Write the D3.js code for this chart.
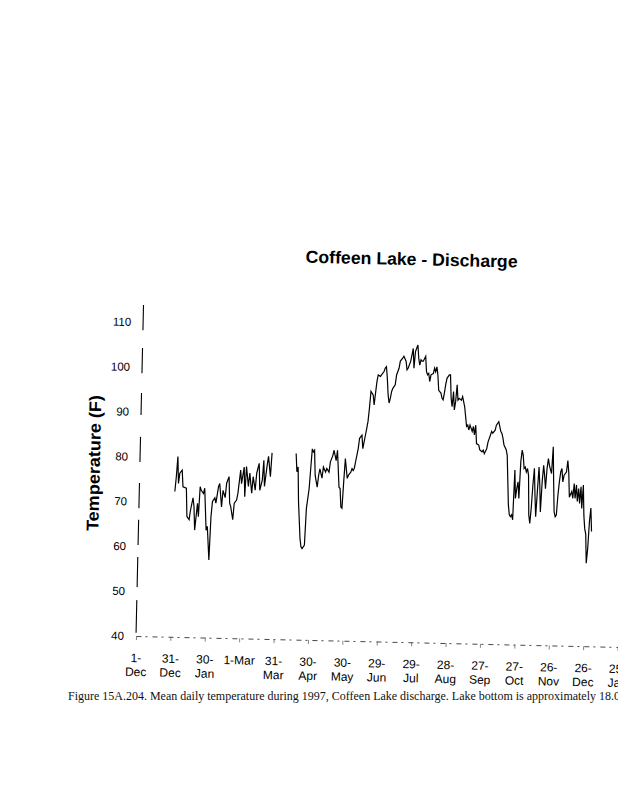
<!DOCTYPE html>
<html><head><meta charset="utf-8">
<script src="https://cdn.jsdelivr.net/npm/d3@7"></script>
<style>body{margin:0;background:#fff}svg{display:block}</style>
</head><body>
<svg id="chart" width="618" height="800"></svg>
<script>
// ---------- data ----------
const chartTitle = "Coffeen Lake - Discharge";
const yTitle = "Temperature (F)";
const captionText = "Figure 15A.204. Mean daily temperature during 1997, Coffeen Lake discharge. Lake bottom is approximately 18.0";

const tickDates = ["1996-12-01","1996-12-31","1997-01-30","1997-03-01","1997-03-31","1997-04-30","1997-05-30",
  "1997-06-29","1997-07-29","1997-08-28","1997-09-27","1997-10-27","1997-11-26","1997-12-26","1998-01-25"];
const tickLabels = ["1-\nDec","31-\nDec","30-\nJan","1-Mar","31-\nMar","30-\nApr","30-\nMay",
  "29-\nJun","29-\nJul","28-\nAug","27-\nSep","27-\nOct","26-\nNov","26-\nDec","25-\nJan"];
const yTicks = [40,50,60,70,80,90,100,110];

// day of year 1997 (1 = 1-Jan) and mean daily temperature (F)
const seg1Days = [1,2,3,4,5,7,8,11,12,14,15,17,18,19,21,22,
  23,24,26,27,29,30,32,33,34,36,37,39,40,42,43,45,46,48,49,50,52,53,55,56,58,59,61,62,63,65,66,68,69,71,72,74,75,77,78,79,81,82,84,85];
const seg1Temps = [72.4,75.7,80.2,74.2,76.5,77.2,73.5,73.2,66.9,66.2,68.3,71.1,69.1,63.9,69.9,66.9,
  73.6,72.8,72.1,73.3,63.9,64.8,57.3,67,70.4,71.2,70,73.7,74.4,69.2,72.9,71.3,74.5,76,70.1,69.3,66.4,70.1,70.8,72.3,
  77.5,74.5,78.2,71.6,78.3,73.9,76.9,72.4,76.1,73.1,76.9,79.1,73.1,75.4,79.8,74,78.8,80.7,76.2,81.5];

const seg2Days = [106,107,108,109,111,112,113,115,116,118,119,120,121,122,123,125,126,127,129,130,132,133,135,136,138,139,
  141,142,143,144,145,146,147,148,149,151,152,154,155,156,
  157,158,160,161,163,164,166,167,
  168,169,170,172,173,175,176,178,179,181,182,183,184,185,186,187,188,189,191,192,194,195,197,198,200,201,202,204,205,206,
  207,208,210,211,212,213,214,215,217,218,219,220,221,222,224,225,226,227,228,229,231,232,233,234,235,236,238,239,240,241,
  242,243,244,245,246,247,249,250,252,
  254,255,256,257,259,260,261,262,263,265,266,268,269,270,272,273,275,276,277,279,280,282,283,284,285,286,287,289,290,
  292,293,294,295,296,297,298,299,300,301,302,303,304,305,306,307,308,309,310,311,312,313,314,315,316,317,318,319,320,
  321,322,323,324,325,326,327,329,330,331,332,333,334,335,336,337,338,339,340,342,343,344,345,
  347,348,349,350,351,352,353,354,355,356,357,358,359,360,361,362,363,364,365];
const seg2Temps = [81.5,77.4,78.5,70.8,62.6,60.7,60.3,61.1,69.3,73.7,78.2,82.6,81.9,82.3,76.7,74.1,76.7,78.2,76.1,78.6,77.5,78.3,77.5,79.8,81.2,82.4,
  80.1,82.4,78.3,74.2,73.9,69.8,69.5,75.4,80.6,76.2,76.9,77.6,78.4,78,
  78.5,80,82.9,85.2,85.9,82.9,85.9,87.4,
  89,92,95.7,94.9,92.7,97.9,99.4,99.1,99.5,100.2,101,101.3,98.7,95,93.2,94.3,95.8,96.5,97.3,99.5,101,102.6,103.3,103.7,102.6,100.7,101.1,102.6,104,105.5,
  101.1,104.8,106.3,103.3,101.8,103,102.7,102.7,103.8,100.4,99.7,100,98.2,99.7,100,101.2,100.4,101.5,99.7,96.3,95.7,94.6,94.2,95.7,97.6,99,99.8,99.8,94.6,92.7,
  96.1,92,93.9,97.6,94.2,94.6,94.2,95,92.7,
  88.4,88.7,87.6,88.7,87.3,88.4,86.5,88.7,84.6,84.3,83.2,82.8,83.2,82.4,83.5,85,86.6,87.4,87,87.7,88.8,89.6,88.5,87.4,87,85.9,84.4,83.4,82.2,
  71.1,68.9,68.5,68.9,67.8,78.9,72.6,74.8,76.3,72.6,80.8,83.4,82.2,79.3,79.6,78.5,79.3,77.8,68.9,67.1,70.5,75.7,79.4,73.4,68.6,74.2,79.7,75.7,69.7,
  76.4,80.1,77.9,74.9,79.4,81.6,80.1,78.3,84.3,76.5,69.8,68.7,69.1,73.5,76.5,78.7,79.5,76.5,78,78.7,81.3,78.7,73.1,
  74.4,72.9,76.2,72.9,75.9,72.2,75.1,71.8,75.5,70.7,75.9,69.2,66.2,65,58.5,61.8,67.8,70.8,65.6];

// scanned y-axis line pieces (in F)
const yAxisPieces = [[40.7,48],[50.9,57.6],[60.3,65.9],[68.5,74.1],[78.8,84.4],[89.3,94.2],[98.6,104.2],[108.2,113.8]];

// ---------- drawing ----------
const svg = d3.select("#chart");
const parse = d3.timeParse("%Y-%m-%d");
const x = d3.scaleTime().domain([new Date(1996,11,1), new Date(1998,0,25)]).range([136, 617.7]);
const y = d3.scaleLinear().domain([40,110]).range([636,322]);
const dayDate = d => new Date(1997, 0, d);

const tilt = 1.3; // the page was scanned slightly rotated
const g = svg.append("g").attr("transform", `rotate(${tilt},${x(new Date(1996,11,1))},${y(40)})`);

// Title
g.append("text").attr("x", 403).attr("y", 259).attr("text-anchor","middle")
  .attr("font-family","Liberation Sans, Arial, sans-serif").attr("font-weight","bold")
  .attr("font-size","17.5px").attr("fill","#000")
  .attr("textLength", 212).attr("lengthAdjust","spacingAndGlyphs").text(chartTitle);

// Y axis title
g.append("text").attr("transform","translate(96,464) rotate(-90)").attr("text-anchor","middle")
  .attr("font-family","Liberation Sans, Arial, sans-serif").attr("font-weight","bold")
  .attr("font-size","17px").attr("fill","#000")
  .attr("textLength", 136).attr("lengthAdjust","spacingAndGlyphs").text(yTitle);

// Y axis labels
const yAxis = g.append("g").attr("transform", `translate(${x(new Date(1996,11,1))},0)`)
  .call(d3.axisLeft(y).tickValues(yTicks).tickSize(0).tickPadding(12).tickFormat(d3.format("d")));
yAxis.select(".domain").remove();
yAxis.selectAll("text").attr("font-family","Liberation Sans, Arial, sans-serif").attr("font-size","11.5px").attr("fill","#000");

// Y axis line (scan shows broken pieces)
g.append("g").selectAll("line").data(yAxisPieces).join("line")
  .attr("x1", x(new Date(1996,11,1))).attr("x2", x(new Date(1996,11,1)))
  .attr("y1", d => y(d[0])).attr("y2", d => y(d[1]))
  .attr("stroke","#000").attr("stroke-width",1.1);

// X axis
const xAxis = g.append("g").attr("transform", `translate(0,${y(40)})`)
  .call(d3.axisBottom(x).tickValues(tickDates.map(parse)).tickSize(4).tickSizeOuter(0).tickFormat(""));
xAxis.select(".domain").attr("stroke","#333").attr("stroke-width",0.9).attr("stroke-dasharray","5,4,2,5");
xAxis.selectAll(".tick line").attr("stroke","#666").attr("stroke-width",0.8);
xAxis.selectAll(".tick").each(function(d,i){
  const lines = tickLabels[i].split("\n");
  const t = d3.select(this).append("text").attr("text-anchor","middle").attr("fill","#000")
    .attr("font-family","Liberation Sans, Arial, sans-serif").attr("font-size","12px");
  lines.forEach((s,k) => t.append("tspan").attr("x",0).attr("y", 26 + k*14).text(s));
});

// Data line
const line = d3.line().x(d => x(dayDate(d[0]))).y(d => y(d[1])).curve(d3.curveLinear);
const seg1 = d3.zip(seg1Days, seg1Temps);
const seg2 = d3.zip(seg2Days, seg2Temps);
g.append("g").selectAll("path").data([seg1, seg2]).join("path")
  .attr("d", line).attr("fill","none").attr("stroke","#000").attr("stroke-width",1.2)
  .attr("stroke-linejoin","miter");

// Caption (page text, not rotated)
svg.append("text").attr("x", 68).attr("y", 700)
  .attr("font-family","Liberation Serif, Times New Roman, serif").attr("font-size","11.5px")
  .attr("fill","#111").attr("textLength", 552).attr("lengthAdjust","spacingAndGlyphs")
  .text(captionText);
</script>
</body></html>
